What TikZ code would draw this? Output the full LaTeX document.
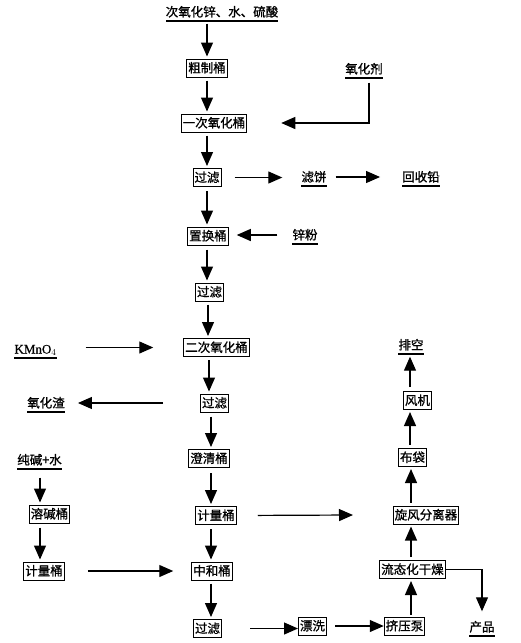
\documentclass[tikz,border=0pt]{standalone}
\usepackage{fontspec}
\newfontfamily\cjk[FakeBold=1]{Noto Sans CJK SC}
\newfontfamily\serifl[FakeBold=0.5]{Liberation Serif}
\usetikzlibrary{arrows.meta}
\tikzset{
  box/.style={draw, line width=1pt, font=\cjk\fontsize{12.5}{13}\selectfont, inner xsep=1.5pt, inner ysep=2.5pt, text height=11pt, text depth=2pt},
  lbl/.style={font=\cjk\fontsize{12.5}{13}\selectfont, inner xsep=0pt, inner ysep=1pt, text height=11pt, text depth=2pt},
  flow/.style={line width=1.2pt, -{Triangle[length=14pt,width=12pt]}},
}
\newcommand\ulnode[1]{\fill ([yshift=-0.2pt]#1.south west) rectangle ([yshift=-1.8pt]#1.south east);}
\begin{document}
\begin{tikzpicture}[x=1pt,y=-1pt]
\useasboundingbox (0,0) rectangle (520,643);
% nodes
\node[lbl] (top) at (222,12) {次氧化锌、水、硫酸};
\node[box] (c1) at (207,68) {粗制桶};
\node[box] (ox1) at (214,123) {一次氧化桶};
\node[lbl] (agent) at (364,69) {氧化剂};
\node[box] (f1) at (207,177.5) {过滤};
\node[lbl] (cake) at (314,177) {滤饼};
\node[lbl] (lead) at (421,177) {回收铅};
\node[box] (zh) at (208,236) {置换桶};
\node[lbl] (zn) at (305,235) {锌粉};
\node[box] (f2) at (209.5,292) {过滤};
\node[box] (ox2) at (216.5,347.5) {二次氧化桶};
\node[lbl, font=\serifl\fontsize{13}{14}\selectfont] (kmno) at (35.5,349) {KMnO$_4$};
\node[box] (f3) at (214.5,403) {过滤};
\node[lbl] (slag) at (46,403) {氧化渣};
\node[box] (cl) at (209,458.5) {澄清桶};
\node[box] (m1) at (216,515.5) {计量桶};
\coordinate (m1end) at (353,515);
\node[lbl] (soda) at (39.5,460) {纯碱+水};
\node[box] (rj) at (49.5,514) {溶碱桶};
\node[box] (m2) at (44,571) {计量桶};
\node[box] (nh) at (212,571) {中和桶};
\node[box] (f4) at (207.5,628.5) {过滤};
\node[box] (px) at (312.5,626) {漂洗};
\node[box] (jy) at (404.5,626) {挤压泵};
\node[box] (ld) at (412.5,569.5) {流态化干燥};
\node[box] (xf) at (426,515) {旋风分离器};
\node[box] (bd) at (412.5,457.5) {布袋};
\node[box] (fj) at (417.5,400.5) {风机};
\node[lbl] (pk) at (411,345) {排空};
\node[lbl] (prod) at (482,627) {产品};
% underlines
\ulnode{top}
\ulnode{agent}
\ulnode{cake}
\ulnode{lead}
\ulnode{zn}
\ulnode{kmno}
\ulnode{slag}
\ulnode{soda}
\ulnode{pk}
\ulnode{prod}
% connectors
\draw[flow, shorten <=4pt, shorten >=2pt] (top.south -| c1) -- (c1.north);
\draw[flow, shorten <=3pt, shorten >=2pt] (c1.south) -- (c1.south |- ox1.north);
\draw[flow, shorten <=6pt, shorten >=34pt] (agent.south -| 369,0) -- (369,123) -- (ox1.east);
\draw[flow, shorten <=3pt, shorten >=2pt] (ox1.south -| f1) -- (f1.north);
\draw[flow, shorten <=13pt, shorten >=19pt] (f1.east) -- (f1.east -| cake.west);
\draw[flow, shorten <=9pt, shorten >=22pt] (cake.east) -- (cake.east -| lead.west);
\draw[flow, shorten <=4pt, shorten >=2pt] (f1.south) -- (f1.south |- zh.north);
\draw[flow, shorten <=15pt, shorten >=8pt] (zn.west) -- (zn.west -| zh.east);
\draw[flow, shorten <=4pt, shorten >=2pt] (zh.south -| 207,0) -- (f2.north -| 207,0);
\draw[flow, shorten <=3pt, shorten >=2pt] (f2.south -| 208,0) -- (ox2.north -| 208,0);
\draw[flow, shorten <=29pt, shorten >=30pt] (kmno.east |- ox2.west) -- (ox2.west);
\draw[flow, shorten <=3pt, shorten >=2pt] (ox2.south -| 209,0) -- (f3.north -| 209,0);
\draw[flow, shorten <=37pt, shorten >=13pt] (f3.west) -- (f3.west -| slag.east);
\draw[flow, shorten <=4pt, shorten >=2pt] (f3.south -| 211,0) -- (cl.north -| 211,0);
\draw[flow, shorten <=5pt, shorten >=2pt] (cl.south -| 211,0) -- (m1.north -| 211,0);
\draw[flow, shorten <=21pt] (m1.east) -- (m1end);
\draw[flow, shorten <=4pt, shorten >=2pt] (m1.south -| 211,0) -- (nh.north -| 211,0);
\draw[flow, shorten <=3pt, shorten >=2pt] (nh.south -| 211,0) -- (f4.north -| 211,0);
\draw[flow, shorten <=10pt, shorten >=2pt] (soda.south -| 40,0) -- (rj.north -| 40,0);
\draw[flow, shorten <=4pt, shorten >=2pt] (rj.south -| 40,0) -- (m2.north -| 40,0);
\draw[flow, shorten <=23pt, shorten >=18pt] (m2.east) -- (m2.east -| nh.west);
\draw[flow, shorten <=28pt] (f4.east) -- (f4.east -| px.west);
\draw[flow, shorten <=8pt] (px.east) -- (jy.west);
\draw[flow, shorten <=2pt, shorten >=2pt] (jy.north -| 411,0) -- (ld.south -| 411,0);
\draw[flow, shorten <=3pt, shorten >=2pt] (ld.north -| 411,0) -- (xf.south -| 411,0);
\draw[flow, shorten <=3pt, shorten >=2pt] (xf.north -| 411,0) -- (bd.south -| 411,0);
\draw[flow, shorten <=3pt, shorten >=2pt] (bd.north -| 410,0) -- (fj.south -| 410,0);
\draw[flow, shorten <=4pt, shorten >=4pt] (fj.north -| 410,0) -- (pk.south -| 410,0);
\draw[flow, shorten >=8pt] (ld.east) -- (ld.east -| prod) -- (prod.north);
\end{tikzpicture}
\end{document}
